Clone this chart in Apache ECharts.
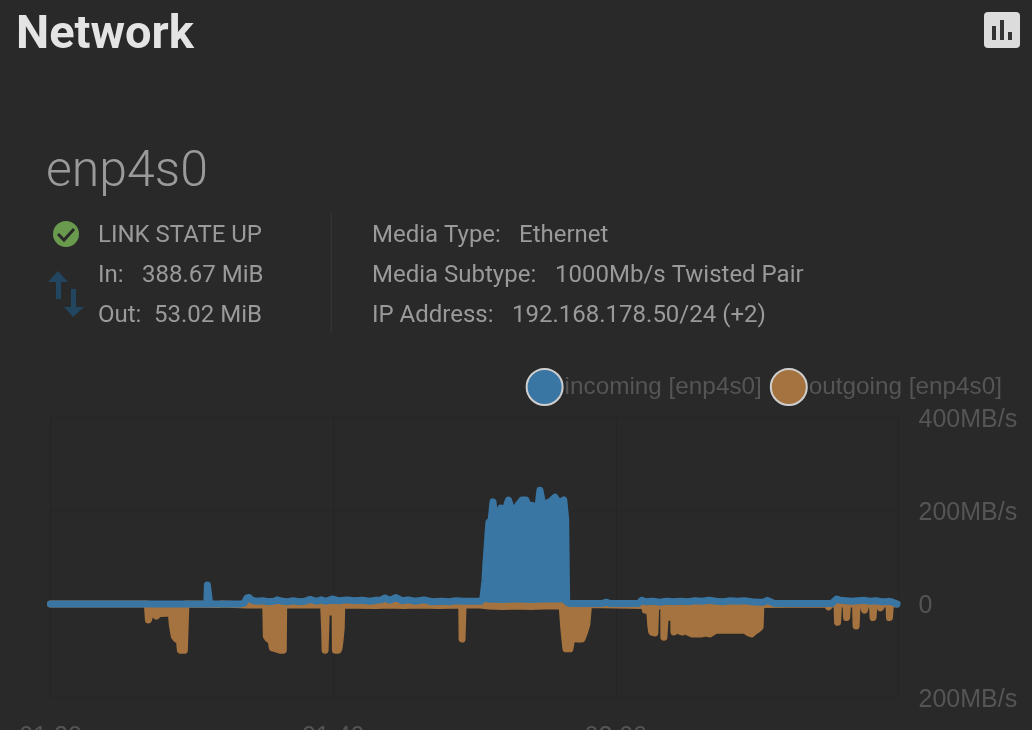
<!DOCTYPE html>
<html>
<head>
<meta charset="utf-8">
<style>html,body{margin:0;padding:0;background:#292929;overflow:hidden}#c{width:1032px;height:730px}</style>
<script src="https://cdn.jsdelivr.net/npm/echarts@6/dist/echarts.min.js"></script>
</head>
<body>
<div id="c"></div>
<script>
// [minutes after 01:20, MB/s]
const incoming = [[0,0],[11.06,0],[11.10,41],[11.24,41],[11.27,0],[13.40,0],[13.70,2],[13.90,13],[14.05,14],[14.25,8],[14.6,6],[15.0,7],[15.4,5],[15.8,6],[16.04,9],[16.4,6],[16.8,5],[17.17,7],[17.6,5],[18.0,6],[18.37,10],[18.8,6],[19.15,9],[19.5,6],[19.93,11],[20.4,7],[20.99,9],[21.5,7],[22.05,8],[22.6,6],[23.04,8],[23.4,9],[23.67,13],[24.0,8],[24.45,14],[24.9,7],[25.3,9],[25.8,6],[26.43,9],[27.0,5],[27.7,6],[28.2,5],[28.7,7],[29.2,6],[29.7,6],[30.2,6],[30.46,6],[30.60,13],[30.74,51],[30.81,88],[30.88,116],[30.95,148],[31.02,176],[31.17,178],[31.27,180],[31.31,219],[31.38,219],[31.45,178],[31.59,178],[31.70,180],[31.87,206],[31.94,206],[32.12,197],[32.19,197],[32.40,223],[32.51,223],[32.65,201],[32.93,204],[33.07,212],[33.36,223],[33.64,223],[33.78,212],[34.06,212],[34.28,206],[34.49,208],[34.63,244],[34.70,244],[34.84,212],[35.12,216],[35.41,221],[35.69,229],[35.83,229],[35.97,216],[36.11,214],[36.32,223],[36.43,223],[36.45,182],[36.52,4],[36.8,1],[39.0,1],[39.29,4],[39.6,1],[41.6,1],[41.84,8],[42.1,5],[42.6,6],[43.1,4],[43.6,6],[44.1,5],[44.6,6],[45.1,5],[45.6,7],[46.1,6],[46.6,8],[47.1,6],[47.6,5],[48.1,7],[48.6,6],[49.1,7],[49.6,5],[50.1,4],[50.46,4],[50.72,8],[51.24,1],[55.27,1],[55.62,11],[55.9,8],[56.3,7],[56.7,6],[57.1,7],[57.6,8],[58.0,6],[58.4,7],[58.8,5],[59.1,5],[59.35,6],[59.58,4],[59.9,0]];
const outgoing = [[0,0],[6.85,0],[6.93,-34],[7.03,-34],[7.21,-6],[7.35,-17],[7.49,-26],[7.63,-21],[7.77,-19],[8.34,-19],[8.55,-19],[8.62,-45],[8.76,-69],[8.90,-75],[9.12,-77],[9.19,-99],[9.33,-99],[9.47,-99],[9.54,-99],[9.58,0],[11.9,-1],[12.1,0],[13.9,-2],[15.23,-2],[15.27,-69],[15.41,-75],[15.62,-77],[15.69,-94],[15.97,-96],[16.25,-99],[16.47,-99],[16.50,-2],[18.5,-2],[19.33,-2],[19.34,-13],[19.40,-56],[19.43,-99],[19.48,-99],[19.51,-17],[20.14,-17],[20.16,-99],[20.21,-99],[20.35,-99],[20.42,-94],[20.49,-77],[20.57,-51],[20.60,-13],[20.62,-2],[23.0,-3],[24.0,-2],[25.0,-3],[26.0,-2],[27.5,-3],[29.10,-2],[29.12,-75],[29.17,-75],[29.19,-2],[30.4,-2],[31.0,-4],[32.0,-5],[33.0,-4],[34.0,-5],[35.0,-4],[36.2,-4],[36.29,-4],[36.33,-56],[36.47,-96],[36.75,-96],[36.86,-96],[36.89,-73],[37.31,-75],[37.60,-75],[37.74,-64],[37.88,-51],[37.95,-43],[38.06,-39],[38.07,-1],[42.05,-3],[42.08,-13],[42.40,-15],[42.47,-45],[42.54,-60],[42.76,-62],[42.81,-62],[42.82,-4],[43.39,-4],[43.40,-71],[43.48,-71],[43.49,-28],[44.10,-28],[44.11,-60],[44.24,-60],[44.38,-51],[44.52,-58],[44.73,-60],[44.95,-51],[45.09,-60],[45.37,-64],[45.80,-64],[46.08,-64],[46.36,-62],[46.64,-64],[47.07,-56],[47.70,-56],[48.41,-56],[49.12,-56],[49.40,-62],[49.61,-64],[49.82,-58],[50.04,-54],[50.21,-49],[50.25,-13],[50.26,-1],[54.91,0],[55.05,-6],[55.19,0],[55.65,0],[55.69,-39],[55.73,-39],[55.76,0],[56.29,0],[56.33,-29],[56.36,-29],[56.40,0],[56.96,0],[57.00,-47],[57.03,-47],[57.07,0],[57.49,0],[57.60,-13],[57.70,0],[58.16,0],[58.20,-29],[58.23,-29],[58.27,0],[58.62,0],[58.73,-8],[58.83,0],[59.33,0],[59.36,-29],[59.40,-29],[59.43,0],[59.86,0]];
const timeLabels = ['01:20','01:40','02:00',''];
const seriesNames = ['outgoing [enp4s0]','incoming [enp4s0]'];
const legendOrder = ['incoming [enp4s0]','outgoing [enp4s0]'];

const BLUE='#3a76a3', ORANGE='#a5733f', GRID='#252525', AXIS='#555555', TXT='#9a9a9a';
const F='Roboto, sans-serif', H='"Liberation Sans", Arial, sans-serif';
const t=(x,y,text,size,opt={})=>({type:'text',silent:true,x,y,style:Object.assign({text,fill:TXT,font:`${opt.w||400} ${size}px ${opt.f||F}`,textVerticalAlign:'middle',textBaseline:'middle',textAlign:'left'},opt.s||{})});
const rect=(x,y,w,h,fill,r)=>({type:'rect',silent:true,shape:{x,y,width:w,height:h,r:r||0},style:{fill}});
const poly=(points,fill)=>({type:'polygon',silent:true,shape:{points},style:{fill}});

const chart=echarts.init(document.getElementById('c'),null,{width:1032,height:730,renderer:'canvas'});
chart.setOption({
  backgroundColor:'#292929',animation:false,
  grid:{left:50.5,right:133.5,top:417.4,bottom:32.6,containLabel:false,outerBoundsMode:'none'},
  legend:{data:legendOrder,right:25,top:363,itemWidth:36,itemHeight:36,itemGap:8,icon:'circle',
    textStyle:{color:AXIS,fontFamily:H,fontSize:24.3,padding:[0,0,0,-3]}},
  xAxis:{type:'value',min:0,max:60,interval:20,
    axisLine:{show:false},splitLine:{show:true,lineStyle:{color:GRID,width:1}},
    axisTick:{show:true,length:16,lineStyle:{color:GRID}},
    axisLabel:{color:AXIS,fontFamily:H,fontSize:25,margin:27,showMaxLabel:true,hideOverlap:false,
      formatter:v=>timeLabels[Math.round(v/20)]}},
  yAxis:{type:'value',position:'right',min:-200,max:400,interval:200,
    axisLine:{show:false},splitLine:{show:true,lineStyle:{color:GRID,width:1}},
    axisTick:{show:true,length:15,lineStyle:{color:GRID}},
    axisLabel:{color:AXIS,fontFamily:H,fontSize:25,margin:20,verticalAlign:'top',padding:[-10,0,0,0],
      formatter:v=>v===0?'0':Math.abs(v)+'MB/s'}},
  series:[
    {name:seriesNames[0],data:outgoing,color:ORANGE},
    {name:seriesNames[1],data:incoming,color:BLUE}
  ].map(s=>Object.assign(s,{type:'line',showSymbol:false,smooth:false,clip:false,
    lineStyle:{width:7,color:s.color,cap:'round',join:'round'},
    areaStyle:{color:s.color,opacity:1},
    itemStyle:{color:s.color,borderColor:'#cfcfcf',borderWidth:2.5},
    emphasis:{disabled:true}})),
  graphic:[
    t(16,36,'Network',47,{w:700,s:{fill:'#e4e4e4'}}),
    t(46,173,'enp4s0',50,{w:300}),
    t(98,236,'LINK STATE UP',24),
    t(98,276,'In:',24),t(142,276,'388.67 MiB',24),
    t(98,316,'Out:',24),t(154,316,'53.02 MiB',24),
    t(372,236,'Media Type:',24),t(519,236,'Ethernet',24),
    t(372,276,'Media Subtype:',24),t(555,276,'1000Mb/s Twisted Pair',24),
    t(372,316,'IP Address:',24),t(512,316,'192.168.178.50/24 (+2)',24),
    rect(330.5,213,1.5,120,'#333333'),
    {type:'circle',silent:true,shape:{cx:66,cy:234,r:13},style:{fill:'#6a9a4e'}},
    {type:'polyline',silent:true,shape:{points:[[58,234],[64,240],[74,229]]},style:{stroke:'#292929',lineWidth:3,fill:null}},
    poly([[58,271],[68,282],[61,282],[61,299],[56,299],[56,282],[48,282]],'#224560'),
    poly([[73,317],[84,307],[76,307],[76,289],[71,289],[71,307],[64,307]],'#224560'),
    rect(984,12,36,36,'#dcdcdc',4),
    rect(992,26,4,14,'#333333'),rect(1000,20,4,20,'#333333'),rect(1008,32,4,8,'#333333')
  ]
});
</script>
</body>
</html>
